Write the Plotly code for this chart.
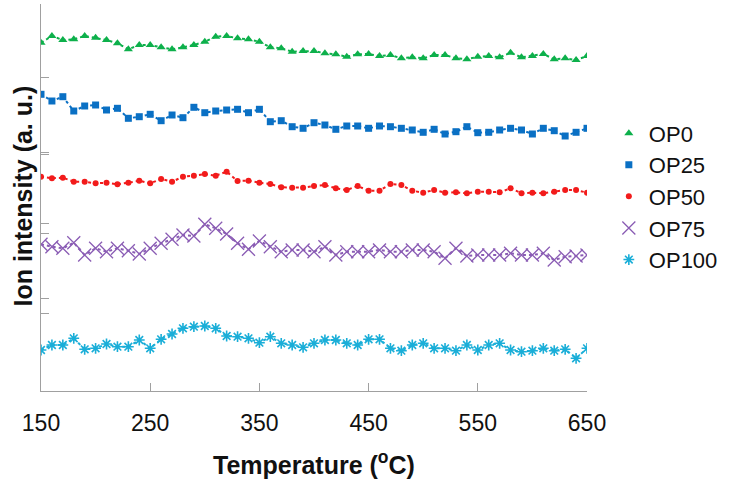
import plotly.graph_objects as go

temps = list(range(150, 651, 10))

op0 = [348.3, 355, 351, 351.7, 355, 353.3, 351, 347.7, 341.7, 346, 346, 343.7, 341.7, 343.7, 346, 349.3,
       354.3, 355, 352.7, 351.7, 349.3, 343.7, 342.7, 339.3, 340, 340,
       337.7, 336.7, 334.3, 336.7, 337, 335, 336, 332.7, 333.7, 332.7, 336, 336, 332.7, 331.7, 334.3,
       335, 333.7, 338.3, 333.7, 335, 337, 331.7, 332.7, 331, 335]
op25 = [296.7, 290, 294.3, 280, 285, 286, 281, 282.7, 272.7, 274.3, 276.7, 270.3, 276, 273.3, 283.7, 278.3,
        280, 281, 281.7, 278.3, 281.7, 269.3, 270.3, 264.3, 262.7, 268.3,
        266, 261.7, 265, 265, 262.7, 265, 264.3, 262.7, 261, 258.7, 261.7, 257, 259.3, 264.3, 258.3,
        258.7, 261, 262.7, 261, 257, 262.7, 260.3, 255, 258.7, 262.7]
op50 = [214.3, 212.7, 213.3, 209.3, 209.3, 207.7, 208.3, 206.7, 208.3, 210.3, 207.7, 212, 209.3, 214.3, 215.3, 217,
        215.3, 219.3, 210, 210.3, 208.3, 207, 203.7, 203.3, 203.3, 205,
        206, 202.7, 201, 205, 200.3, 200.3, 207, 206, 200.3, 198.3, 201, 198.3, 198.7, 197.7, 199.3,
        199.3, 198.7, 202.7, 197.7, 198.3, 197.7, 199.3, 201, 201, 198.3]
op75 = [146.7, 144.3, 142.7, 148.3, 136, 142.7, 139.3, 142.7, 140.3, 137, 142.7, 147.7, 151.7, 156, 155, 166.7,
        162.7, 157, 147.7, 141.7, 150, 144.3, 139.3, 141, 141, 139.3,
        144.3, 136, 139.3, 139.3, 139.3, 141, 139.3, 139.3, 141, 141, 139.3, 132.7, 142.7, 135, 136,
        136, 136, 137.7, 136, 136, 137.7, 131, 134.3, 135, 136]
op100 = [41, 46, 46, 52.7, 41.7, 42.7, 47, 44.3, 44.3, 51, 42.7, 51.7, 57, 62.7, 64.3, 65,
         62.7, 55, 54.3, 52.7, 48.3, 54.3, 47.7, 46, 43.7, 47.7,
         51, 51, 47.7, 46, 51.7, 51.7, 42.7, 40.3, 46, 47.7, 42.7, 42.7, 40.3, 46, 41,
         46, 47.7, 41, 39.3, 40.3, 42.7, 40.3, 41.7, 32.7, 42.7]

names = ["OP0", "OP25", "OP50", "OP75", "OP100"]
x_ticks = [150, 250, 350, 450, 550, 650]
y_ticks = [78, 93, 158, 168, 237, 239, 314, 387]

series = [op0, op25, op50, op75, op100]
colors = ["#0DB04B", "#0A70C4", "#F21B1B", "#8A5CB4", "#1AAED8"]
symbols = ["triangle-up", "square", "circle", "x-thin-open", "asterisk-open"]
sizes = [8, 7, 6, 13, 9]
mlw = [0, 0, 0, 1.3, 1.6]

fig = go.Figure()
for name, ys, c, s, sz, lw in zip(names, series, colors, symbols, sizes, mlw):
    fig.add_trace(go.Scatter(x=temps, y=ys, mode="lines", showlegend=False,
                             line=dict(color=c, width=2, dash="dot"), hoverinfo="skip"))
    fig.add_trace(go.Scatter(x=temps, y=ys, mode="markers", name=name,
                             marker=dict(symbol=s, size=sz, color=c,
                                         line=dict(color=c, width=lw))))

fig.update_layout(
    width=733, height=487,
    margin=dict(l=41, r=146, t=4, b=96),
    paper_bgcolor="white", plot_bgcolor="white",
    font=dict(family="Liberation Sans, Arial, sans-serif", size=23, color="#111111"),
    showlegend=True,
    legend=dict(x=1.04, y=0.72, xanchor="left", yanchor="top",
                font=dict(size=22), itemwidth=30, tracegroupgap=0,
                bgcolor="rgba(0,0,0,0)"),
    xaxis=dict(range=[150, 650], tickvals=x_ticks, ticks="inside", ticklen=8,
               tickcolor="#A0A0A0", showline=True, linecolor="#A0A0A0", linewidth=1,
               showgrid=False, zeroline=False, ticklabelstandoff=11, fixedrange=True),
    yaxis=dict(range=[0, 387], tickvals=y_ticks, ticks="inside", ticklen=8,
               tickcolor="#A0A0A0", showline=True, linecolor="#A0A0A0", linewidth=1,
               showticklabels=False, showgrid=False, zeroline=False, fixedrange=True),
    annotations=[
        dict(text="<b>Temperature (<sup>o</sup>C)</b>", xref="paper", yref="paper",
             x=0.5, y=-0.185, xanchor="center", yanchor="middle", showarrow=False,
             font=dict(size=25, color="#111111")),
        dict(text="<b>Ion intensity (a. u.)</b>", xref="paper", yref="paper",
             x=-0.033, y=0.505, xanchor="center", yanchor="middle", showarrow=False,
             textangle=-90, font=dict(size=25, color="#111111")),
    ],
)

fig.write_html("out.html", config={"displayModeBar": False},
               post_script="document.body.style.margin='0px';")
